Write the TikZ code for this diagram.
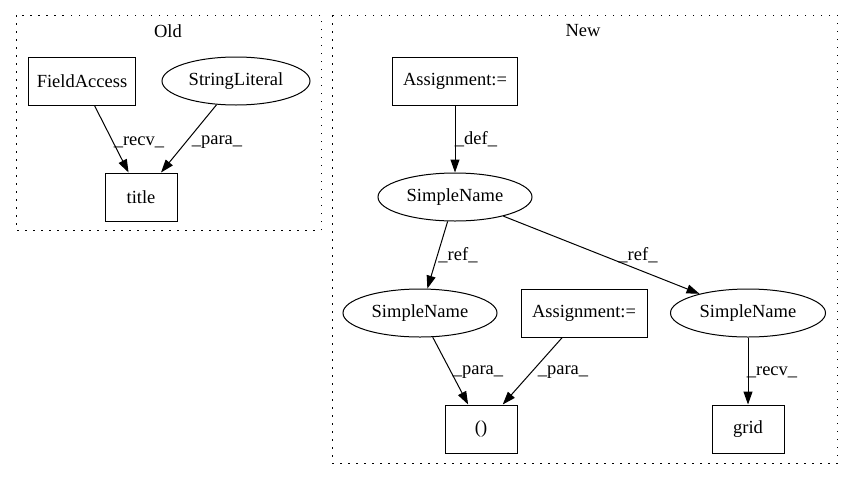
\documentclass[tikz,border=0pt]{standalone}
\usepackage{fontspec}
\setmainfont{Liberation Serif}
\usetikzlibrary{arrows.meta,shapes.geometric}
\begin{document}
\begin{tikzpicture}[x=1pt,y=-1pt,
  every node/.style={font=\fontsize{18.5}{22}\selectfont, inner sep=0pt},
  boxnode/.style={draw, line width=1pt, minimum width=72pt, minimum height=48pt, inner xsep=8pt},
  ellnode/.style={draw, ellipse, line width=1pt, minimum width=154pt, minimum height=48pt},
  cluster/.style={draw, line width=1pt, dash pattern=on 1.5pt off 6.5pt},
  conn/.style={draw, line width=1pt, -{Triangle[length=13pt,width=9pt]}},
  lbl/.style={anchor=center}
]
\useasboundingbox (0,0) rectangle (852,480);
% clusters
\draw[cluster] (16,15) rectangle (321,230);
\node (oldtitle) at (168,31) {Old};
\draw[cluster] (332,15) rectangle (837,463);
\node (newtitle) at (583,31) {New};
% Old nodes
\node[boxnode] (fa) at (82,81) {FieldAccess};
\node[ellnode, minimum width=148pt] (sl) at (236,81) {StringLiteral};
\node[boxnode] (title) at (141,197) {title};
% New nodes
\node[boxnode, minimum width=125pt] (as1) at (455,81) {Assignment:=};
\node[ellnode] (sn0) at (455,197) {SimpleName};
\node[ellnode] (sn1) at (420,313) {SimpleName};
\node[boxnode, minimum width=126pt] (as2) at (584,313) {Assignment:=};
\node[ellnode, minimum width=155pt] (sn2) at (748,313) {SimpleName};
\node[boxnode] (call) at (481,429) {()};
\node[boxnode] (grid) at (748,429) {grid};
% edges
\draw[conn] (fa) -- (title);
\draw[conn] (sl) -- (title);
\draw[conn] (as1) -- (sn0);
\draw[conn] (sn0) -- (sn1);
\draw[conn] (sn0) -- (sn2);
\draw[conn] (sn1) -- (call);
\draw[conn] (as2) -- (call);
\draw[conn] (sn2) -- (grid);
% labels
\node[lbl] (l1) at (139,142) {\_recv\_};
\node[lbl] (l2) at (217,142) {\_para\_};
\node[lbl] (l3) at (476,139) {\_def\_};
\node[lbl] (l4) at (458,255) {\_ref\_};
\node[lbl] (l5) at (638,255) {\_ref\_};
\node[lbl] (l6) at (478,372) {\_para\_};
\node[lbl] (l7) at (563,372) {\_para\_};
\node[lbl] (l8) at (772,372) {\_recv\_};
\end{tikzpicture}
\end{document}
